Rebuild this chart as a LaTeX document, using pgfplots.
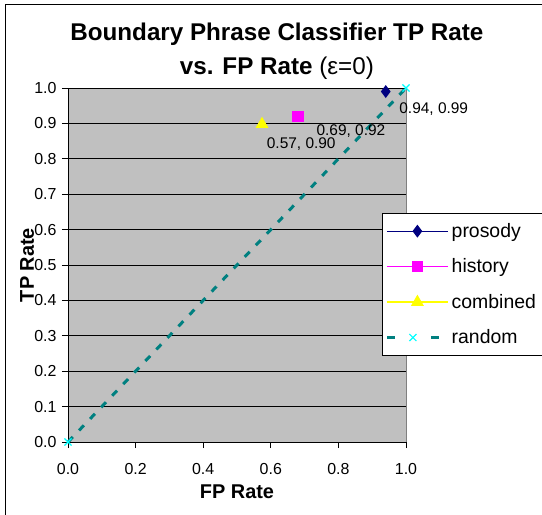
\documentclass[border=0pt]{standalone}
\usepackage{fontspec}
\setmainfont{Liberation Sans}
\usepackage{pgfplots}
\pgfplotsset{compat=1.18}
\definecolor{areagray}{HTML}{C0C0C0}
\definecolor{navy}{HTML}{000080}
\definecolor{histpink}{HTML}{FF00FF}
\definecolor{combyellow}{HTML}{FFFF00}
\definecolor{randteal}{HTML}{008080}
\definecolor{randcyan}{HTML}{00FFFF}
\definecolor{borderg}{HTML}{808080}
\begin{document}
\begin{tikzpicture}
\useasboundingbox (-68bp,-73bp) rectangle (474bp,442bp);
\draw[black, line width=1bp] (-62bp,-80bp) -- (-62bp,437bp) -- (480bp,437bp);
\begin{axis}[
    at={(0,0)}, anchor=south west,
    scale only axis,
    width=338bp, height=354bp,
    xmin=0, xmax=1, ymin=0, ymax=1,
    xtick={0,0.2,...,1.0},
    ytick={0,0.1,...,1.0},
    tick label style={font=\fontsize{16}{18}\selectfont},
    xticklabel style={yshift=-12bp},
    yticklabel style={xshift=-2bp},
    /pgf/number format/.cd, fixed, fixed zerofill, precision=1, assume math mode=true,
    /pgfplots/.cd,
    axis background/.style={fill=areagray, draw=borderg},
    axis x line*=bottom, axis y line*=left,
    axis line style={black, line width=0.8bp},
    tick align=outside,
    major tick length=6bp,
    tick style={black, line width=0.8bp},
    ymajorgrids,
    grid style={black, line width=0.8bp},
    xlabel={\textbf{FP Rate}},
    ylabel={\textbf{TP Rate}},
    label style={font=\fontsize{20}{22}\selectfont},
    xlabel style={at={(0.5,0)}, anchor=center, yshift=-50bp},
    ylabel style={at={(-0.1213,0.5)}, anchor=center},
    title={\textbf{Boundary Phrase Classifier TP Rate}\\\textbf{vs. FP Rate} (ε=0)},
    title style={at={(0.618,1)}, anchor=center, yshift=30.5bp, align=center,
        font=\fontsize{24.3}{34}\selectfont},
    legend image code/.code={\draw[mark repeat=2,mark phase=2,#1]
        plot coordinates {(0bp,0bp) (30.5bp,0bp) (61bp,0bp)};},
    legend style={at={(0.929,0.647)}, anchor=north west, draw=black, fill=white,
        line width=0.8bp,
        font=\fontsize{19.5}{22}\selectfont, row sep=15.9bp,
        inner ysep=8bp, inner xsep=3bp,
        nodes={inner xsep=3bp}},
    legend cell align=left,
    clip=false,
]
\addplot[navy, line width=1.2bp, mark=diamond*, mark size=5.5bp,
    mark options={fill=navy, draw=navy}]
    coordinates {(0.94,0.99)};
\addplot[histpink, line width=1.4bp, mark=square*, mark size=5bp,
    mark options={fill=histpink, draw=histpink}]
    coordinates {(0.68,0.92)};
\addplot[combyellow, line width=1.6bp, mark=triangle*, mark size=5.8bp,
    mark options={fill=combyellow, draw=combyellow}]
    coordinates {(0.574,0.898)};
\addplot[randteal, line width=3bp, dash pattern=on 7bp off 9bp,
    mark=x, mark size=5bp, mark options={randcyan, solid, line width=1.2bp},
    legend image code/.code={
        \draw[randteal, line width=3bp, dash pattern=on 8bp off 36bp] (0bp,0bp) -- (52bp,0bp);
        \draw[randcyan, line width=1.2bp] plot[mark=x, mark size=5bp] coordinates {(26bp,0bp)};}]
    coordinates {(0,0) (1,1)};
\legend{prosody, history, combined, random}
\node[anchor=west, font=\fontsize{15.5}{17}\selectfont] at (axis cs:0.970,0.941) {0.94, 0.99};
\node[anchor=west, font=\fontsize{15.5}{17}\selectfont] at (axis cs:0.725,0.878) {0.69, 0.92};
\node[anchor=west, font=\fontsize{15.5}{17}\selectfont] at (axis cs:0.578,0.842) {0.57, 0.90};
\end{axis}
\end{tikzpicture}
\end{document}
